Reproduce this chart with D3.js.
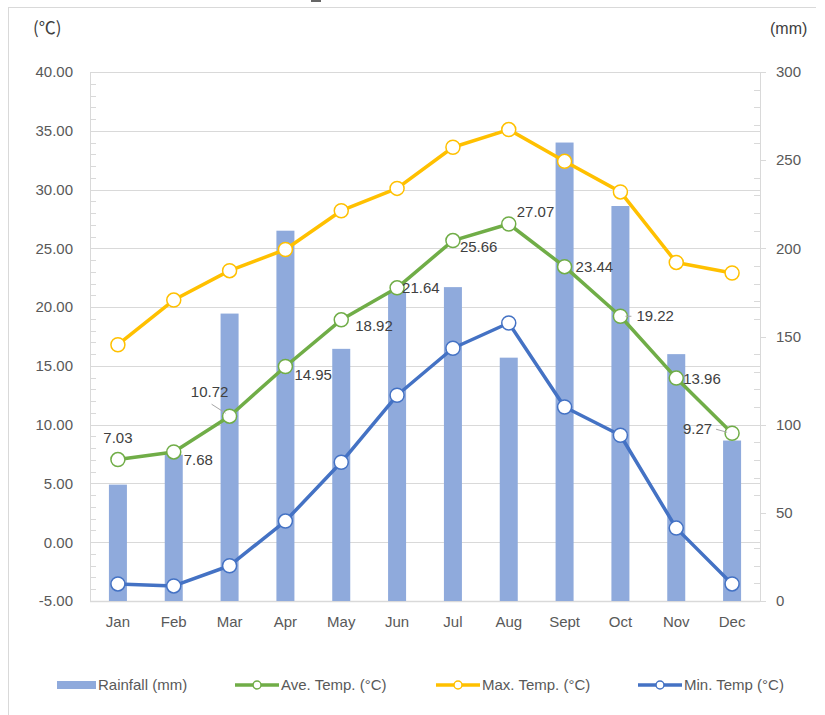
<!DOCTYPE html>
<html><head><meta charset="utf-8">
<script src="https://cdn.jsdelivr.net/npm/d3@7"></script>
<style>
body{margin:0;background:#fff;}
text{font-family:"Liberation Sans Narrow","Arial Narrow","Liberation Sans",sans-serif;}
</style></head>
<body><svg id="c" width="825" height="715"></svg>
<script>
const months = ["Jan","Feb","Mar","Apr","May","Jun","Jul","Aug","Sept","Oct","Nov","Dec"];
const rainfall = [66, 83, 163, 210, 143, 175, 178, 138, 260, 224, 140, 91];
const aveTemp = [7.03, 7.68, 10.72, 14.95, 18.92, 21.64, 25.66, 27.07, 23.44, 19.22, 13.96, 9.27];
const maxTemp = [16.8, 20.6, 23.1, 24.9, 28.2, 30.1, 33.6, 35.1, 32.4, 29.8, 23.8, 22.9];
const minTemp = [-3.55, -3.72, -2.0, 1.8, 6.8, 12.5, 16.5, 18.65, 11.5, 9.1, 1.2, -3.55];
const leftTicks = [-5, 0, 5, 10, 15, 20, 25, 30, 35, 40];
const rightTicks = [0, 50, 100, 150, 200, 250, 300];
const legendLabels = ["Rainfall (mm)", "Ave. Temp. (°C)", "Max. Temp. (°C)", "Min. Temp (°C)"];

// label placement (layout only): dx, dy, anchor, leader
const labelPos = [
  [0,-22,"middle",null],[10,8,"start",null],[-20,-24,"middle",[-18,-12,-4,-3]],[9,8,"start",null],
  [14,6,"start",null],[5,0,"start",null],[7,6,"start",null],[8,-12,"start",null],
  [11,0,"start",null],[16,-1,"start",[5,0,11,0]],[7,1,"start",null],[-20,-4,"end",[-16,-4,-5,-1]]
];

const colors = {bar:"#8faadc", ave:"#70ad47", max:"#ffc000", min:"#4472c4"};
const svg = d3.select("#c");
const L = 90, R = 760, T = 72, B = 601;

// frame
svg.append("line").attr("x1",8).attr("x2",816).attr("y1",7.5).attr("y2",7.5).attr("stroke","#d9d9d9");
svg.append("line").attr("x1",8.5).attr("x2",8.5).attr("y1",7).attr("y2",715).attr("stroke","#d9d9d9");
svg.append("rect").attr("x",311).attr("y",0).attr("width",10).attr("height",2).attr("fill","#666");

const x = d3.scaleBand().domain(months).range([L,R]);
const yL = d3.scaleLinear().domain([-5,40]).range([B,T]);
const yR = d3.scaleLinear().domain([0,300]).range([B,T]);

// gridlines
svg.append("g").selectAll("line").data(leftTicks.filter(d=>d>-5)).join("line")
  .attr("x1",L).attr("x2",R).attr("y1",d=>Math.round(yL(d))+0.5).attr("y2",d=>Math.round(yL(d))+0.5)
  .attr("stroke","#d9d9d9").attr("stroke-width",1);
// axes lines
svg.append("line").attr("x1",L+0.5).attr("x2",L+0.5).attr("y1",T).attr("y2",B).attr("stroke","#d9d9d9");
svg.append("line").attr("x1",R+0.5).attr("x2",R+0.5).attr("y1",T).attr("y2",B).attr("stroke","#d9d9d9");
svg.append("line").attr("x1",L).attr("x2",R).attr("y1",B+0.5).attr("y2",B+0.5).attr("stroke","#d9d9d9").attr("stroke-width",1.5);
// minor ticks
const minorL = d3.range(-5,40.01,1).filter(d=>d%5!==0);
svg.append("g").selectAll("line").data(minorL).join("line")
  .attr("x1",L).attr("x2",L+6).attr("y1",d=>Math.round(yL(d))+0.5).attr("y2",d=>Math.round(yL(d))+0.5).attr("stroke","#d9d9d9");
const minorR = d3.range(0,300.1,10).filter(d=>d%50!==0);
svg.append("g").selectAll("line").data(minorR).join("line")
  .attr("x1",R-6).attr("x2",R).attr("y1",d=>Math.round(yR(d))+0.5).attr("y2",d=>Math.round(yR(d))+0.5).attr("stroke","#d9d9d9");
svg.append("g").selectAll("line").data(rightTicks).join("line")
  .attr("x1",R).attr("x2",R+6).attr("y1",d=>Math.round(yR(d))+0.5).attr("y2",d=>Math.round(yR(d))+0.5).attr("stroke","#d9d9d9");

// axis labels
const gl = svg.append("g").attr("transform",`translate(${L-14},0)`)
  .call(d3.axisLeft(yL).tickValues(leftTicks).tickFormat(d=>d.toFixed(2)).tickSize(0));
const gr = svg.append("g").attr("transform",`translate(${R+13},0)`)
  .call(d3.axisRight(yR).tickValues(rightTicks).tickSize(0));
const gb = svg.append("g").attr("transform",`translate(0,${B+12})`)
  .call(d3.axisBottom(x).tickSize(0));
[gl,gr,gb].forEach(g=>{ g.select(".domain").remove(); g.selectAll("text").attr("fill","#595959").style("font-size","15px").style("font-family",'"Liberation Sans Narrow","Arial Narrow",sans-serif'); });

// units
svg.append("text").attr("x",33).attr("y",34).text("(℃)").attr("fill","#404040").style("font-size","17px").style("font-family",'"Noto Sans CJK JP",sans-serif');
svg.append("text").attr("x",770).attr("y",34).text("(mm)").attr("fill","#404040").style("font-size","16px");

// bars
const bw = 18;
svg.append("g").selectAll("rect").data(rainfall).join("rect")
  .attr("x",(d,i)=>x(months[i])+x.bandwidth()/2-bw/2).attr("width",bw)
  .attr("y",d=>yR(d)).attr("height",d=>B-yR(d)).attr("fill",colors.bar);

// lines
function series(data,color){
  const line = d3.line().x((d,i)=>x(months[i])+x.bandwidth()/2).y(d=>yL(d));
  svg.append("path").datum(data).attr("d",line).attr("fill","none").attr("stroke",color)
    .attr("stroke-width",3.5).attr("stroke-linejoin","round").attr("stroke-linecap","round");
  svg.append("g").selectAll("circle").data(data).join("circle")
    .attr("cx",(d,i)=>x(months[i])+x.bandwidth()/2).attr("cy",d=>yL(d)).attr("r",7)
    .attr("fill","#fff").attr("stroke",color).attr("stroke-width",1.5);
}
series(maxTemp,colors.max);
series(aveTemp,colors.ave);
series(minTemp,colors.min);

// data labels
const lg = svg.append("g");
aveTemp.forEach((v,i)=>{
  const cx = x(months[i])+x.bandwidth()/2, cy = yL(v);
  const p = labelPos[i];
  if(p[3]) lg.append("line").attr("x1",cx+p[3][0]).attr("y1",cy+p[3][1]).attr("x2",cx+p[3][2]).attr("y2",cy+p[3][3]).attr("stroke","#a6a6a6").attr("stroke-width",1);
  lg.append("text").attr("x",cx+p[0]).attr("y",cy+p[1]).attr("dy","0.35em").attr("text-anchor",p[2])
    .text(v.toFixed(2)).attr("fill","#404040").style("font-size","15px");
});

// legend
const ly = 685;
const leg = svg.append("g");
leg.append("rect").attr("x",57).attr("y",ly-4).attr("width",39).attr("height",8).attr("fill",colors.bar);
leg.append("text").attr("x",98).attr("y",ly).attr("dy","0.35em").text(legendLabels[0]).attr("fill","#595959").style("font-size","15px");
[[235,colors.ave,legendLabels[1]],[436,colors.max,legendLabels[2]],[638,colors.min,legendLabels[3]]].forEach(([lx,c,t])=>{
  leg.append("line").attr("x1",lx).attr("x2",lx+44).attr("y1",ly).attr("y2",ly).attr("stroke",c).attr("stroke-width",3.5);
  leg.append("circle").attr("cx",lx+22).attr("cy",ly).attr("r",4).attr("fill","#fff").attr("stroke",c).attr("stroke-width",1.5);
  leg.append("text").attr("x",lx+46).attr("y",ly).attr("dy","0.35em").text(t).attr("fill","#595959").style("font-size","15px");
});
</script></body></html>
